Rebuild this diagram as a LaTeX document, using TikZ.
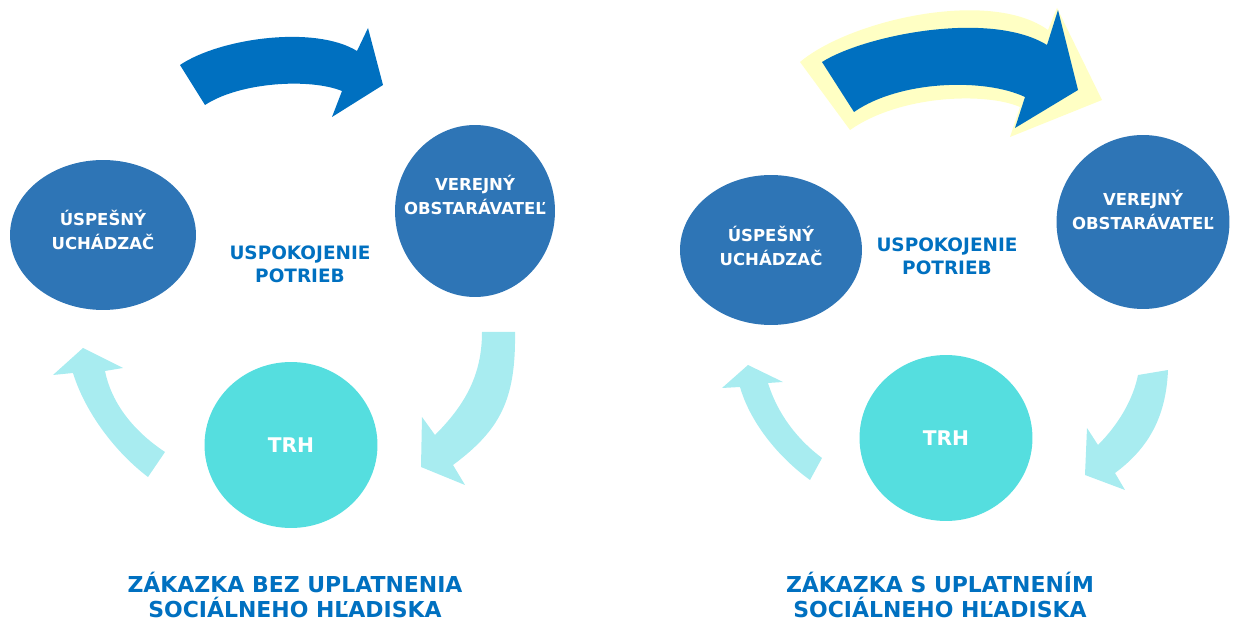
\documentclass[tikz,border=0pt]{standalone}
\usepackage{fontspec}
\setmainfont{DejaVu Sans}
\usetikzlibrary{shapes.geometric}
\definecolor{circBlue}{HTML}{2E75B6}
\definecolor{trhCyan}{HTML}{55DEDF}
\definecolor{lightCyan}{HTML}{A8ECF0}
\definecolor{darkBlue}{HTML}{0070C0}
\definecolor{glowYellow}{HTML}{FFFFC4}

\begin{document}
\begin{tikzpicture}
[x=0.02cm,y=-0.02cm,%
  bubble/.style={shape=ellipse,fill=circBlue,inner sep=0pt},%
  trhBubble/.style={shape=ellipse,fill=trhCyan,inner sep=0pt},%
  bubbleText/.style={text=white,align=center,font=\bfseries\fontsize{9.4}{13.6}\selectfont},%
  trhText/.style={text=white,font=\bfseries\fontsize{11.5}{14}\selectfont},%
  midText/.style={text=darkBlue,align=center,font=\bfseries\fontsize{10.5}{13}\selectfont},%
  captionText/.style={text=darkBlue,align=center,font=\bfseries\fontsize{12.5}{14.7}\selectfont},%
  bigArrow/.style={fill=darkBlue},%
  smallArrow/.style={fill=lightCyan}]
\useasboundingbox (0,0) rectangle (1241,621);
%% circles
\foreach \nodename/\x/\y/\w/\h in {lUch/103/235/3.72/3.0, lVo/475/211/3.2/3.44,
  rUch/771/250/3.64/3.0, rVo/1143/222/3.46/3.48}
{
  \node (\nodename) at (\x,\y) [bubble,minimum width=\w cm,minimum height=\h cm] {};
}
\foreach \nodename/\x/\y in {lTrh/291/445, rTrh/946/438}
{
  \node (\nodename) at (\x,\y) [trhBubble,minimum width=3.46cm,minimum height=3.32cm] {};
}
%% labels in circles
\node (lUchText) at (103,230) [bubbleText] {ÚSPEŠNÝ\\UCHÁDZAČ};
\node (lVoText) at (475,195) [bubbleText] {VEREJNÝ\\OBSTARÁVATEĽ};
\node (rUchText) at (771,246) [bubbleText] {ÚSPEŠNÝ\\UCHÁDZAČ};
\node (rVoText) at (1143,210) [bubbleText] {VEREJNÝ\\OBSTARÁVATEĽ};
\node (lTrhText) at (lTrh) [trhText] {TRH};
\node (rTrhText) at (rTrh) [trhText] {TRH};
%% texts
\node (lMid) at (300,264) [midText] {USPOKOJENIE\\POTRIEB};
\node (rMid) at (947,256) [midText] {USPOKOJENIE\\POTRIEB};
\node (lCaption) at (295,595) [captionText] {ZÁKAZKA BEZ UPLATNENIA\\SOCIÁLNEHO HĽADISKA};
\node (rCaption) at (940,595) [captionText] {ZÁKAZKA S UPLATNENÍM\\SOCIÁLNEHO HĽADISKA};
%% big arrows
\fill[bigArrow] (180,65) .. controls (220,38) and (315,25) .. (357,51) -- (368,28)
  -- (383,85) -- (332,117) -- (342,91) .. controls (310,78) and (240,82) .. (205,105) -- cycle;
\fill[glowYellow] (800,62) .. controls (850,20) and (990,-12) .. (1048,30) -- (1057,8)
  -- (1102,100) -- (1010,137) -- (1020,107) .. controls (985,92) and (900,95) .. (850,130) -- cycle;
\fill[bigArrow] (822,62) .. controls (865,35) and (990,10) .. (1047,45) -- (1058,10)
  -- (1078,90) -- (1015,128) -- (1025,97) .. controls (985,78) and (900,80) .. (854,112) -- cycle;
%% small arrows
\fill[smallArrow] (482,332) -- (515,332) .. controls (516,400) and (500,430) .. (453,465)
  -- (465,485) -- (421,467) -- (422,417) -- (435,435) .. controls (465,405) and (482,375) .. (482,332) -- cycle;
\fill[smallArrow] (165,452) -- (148,477) .. controls (115,452) and (85,412) .. (73,373)
  -- (53,375) -- (83,348) -- (123,368) -- (105,371) .. controls (112,405) and (135,432) .. (165,452) -- cycle;
\fill[smallArrow] (1138,375) -- (1168,370) .. controls (1166,420) and (1146,450) .. (1115,473)
  -- (1125,490) -- (1085,475) -- (1087,428) -- (1098,445) .. controls (1118,425) and (1133,400) .. (1138,375) -- cycle;
\fill[smallArrow] (822,458) -- (810,480) .. controls (778,457) and (750,422) .. (740,387)
  -- (722,388) -- (748,365) -- (783,382) -- (768,383) .. controls (778,415) and (798,440) .. (822,458) -- cycle;
\end{tikzpicture}
\end{document}
